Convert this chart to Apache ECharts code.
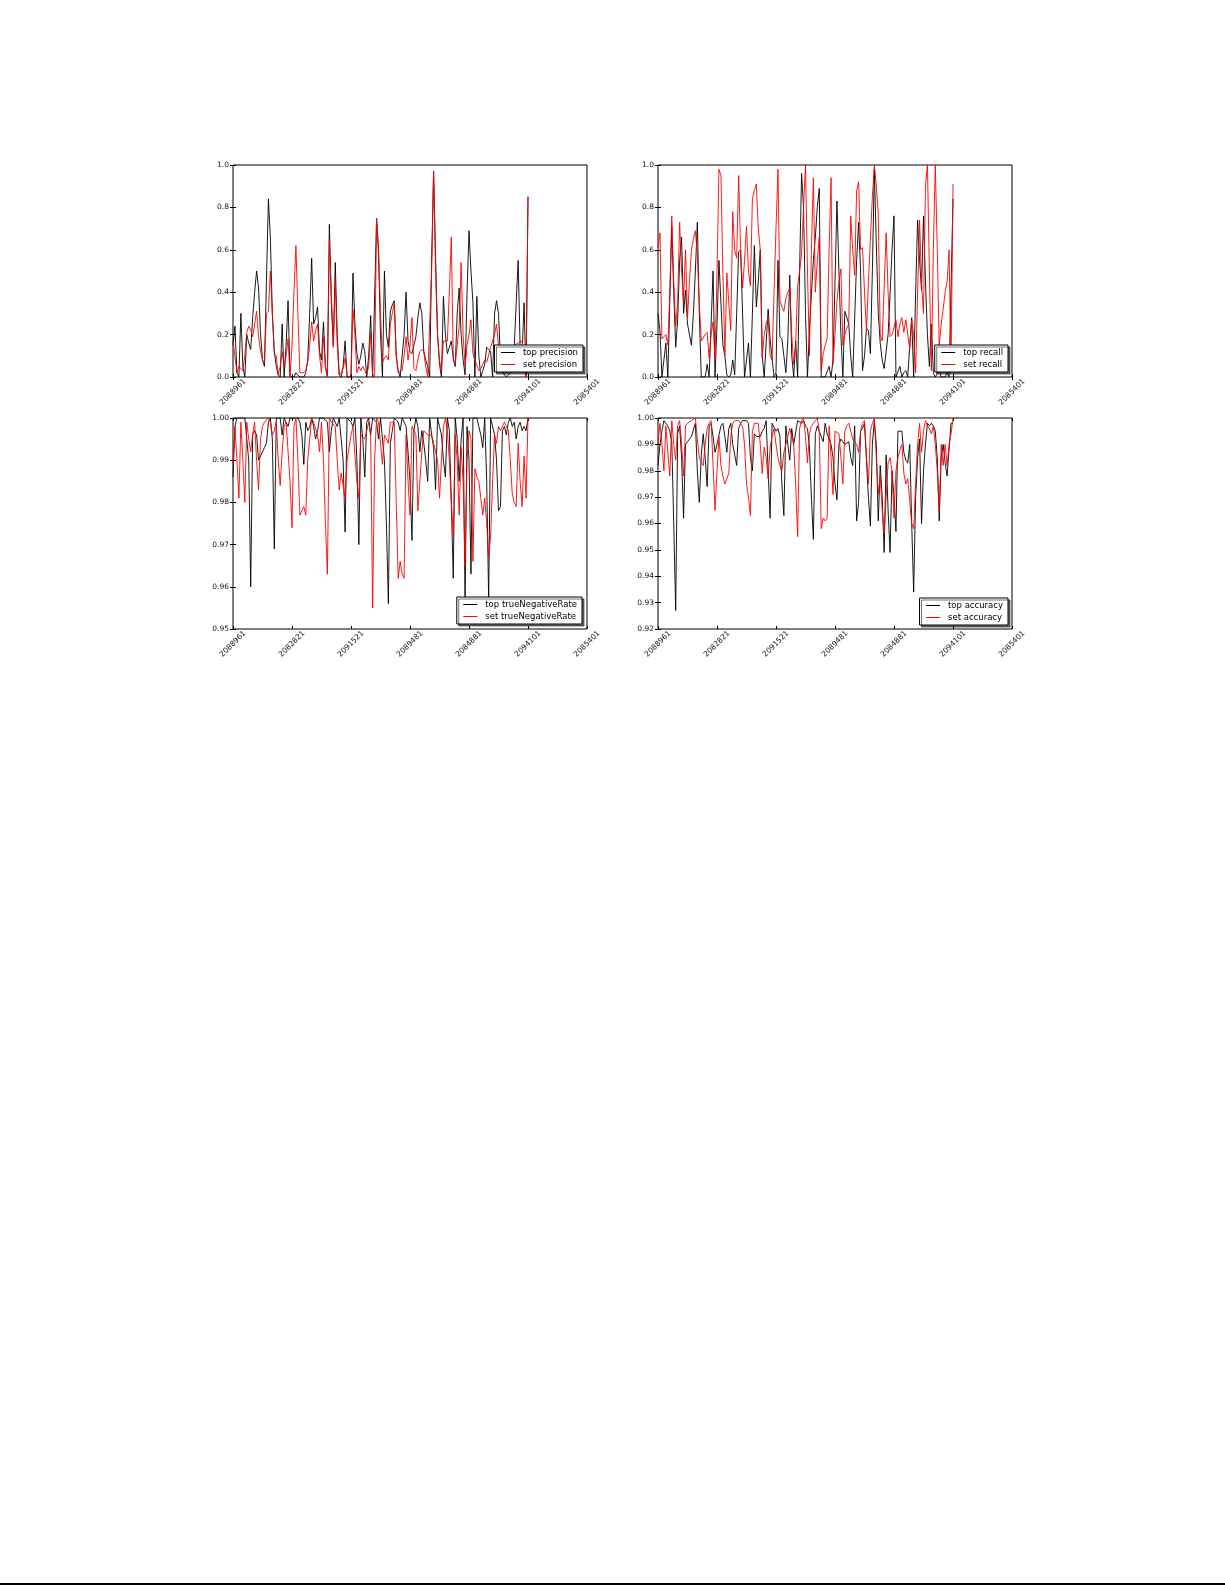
<!DOCTYPE html>
<html><head><meta charset="utf-8">
<script src="https://cdn.jsdelivr.net/npm/echarts@6/dist/echarts.min.js"></script>
<style>html,body{margin:0;padding:0;background:#fff;} #c{width:1225px;height:1585px;}</style>
</head><body><div id="c"></div>
<script>
const xTickLabels = ['2088961','2082821','2091521','2089481','2084881','2094101','2085401'];

const topPrecision = [
0.15,0.24,0.02,0.0,0.30,0.05,0.0,0.20,0.16,0.13,
0.28,0.40,0.50,0.42,0.20,0.08,0.05,0.45,0.84,0.66,
0.30,0.12,0.05,0.01,0.0,0.25,0.0,0.15,0.36,0.0,
0.0,0.0,0.02,0.01,0.0,0.0,0.0,0.02,0.08,0.30,
0.56,0.25,0.28,0.33,0.12,0.08,0.26,0.05,0.0,0.72,
0.35,0.15,0.54,0.20,0.01,0.0,0.05,0.17,0.0,0.0,
0.0,0.49,0.25,0.11,0.06,0.10,0.16,0.12,0.0,0.10,
0.29,0.0,0.0,0.75,0.58,0.20,0.0,0.50,0.20,0.14,
0.31,0.34,0.36,0.10,0.03,0.0,0.0,0.20,0.40,0.17,
0.12,0.11,0.15,0.19,0.28,0.35,0.30,0.12,0.08,0.05,
0.0,0.55,0.97,0.57,0.20,0.06,0.0,0.38,0.20,0.11,
0.14,0.17,0.09,0.05,0.30,0.42,0.20,0.08,0.01,0.40,
0.69,0.50,0.35,0.0,0.38,0.10,0.0,0.03,0.06,0.14,
0.13,0.12,0.0,0.30,0.36,0.30,0.08,0.02,0.01,0.0,
0.0,0.02,0.08,0.14,0.35,0.55,0.14,0.10,0.35,0.0,
0.85];
const setPrecision = [
0.17,0.17,0.02,0.05,0.05,0.03,0.10,0.21,0.24,0.22,
0.19,0.25,0.31,0.19,0.12,0.08,0.07,0.30,0.31,0.50,
0.30,0.11,0.10,0.01,0.05,0.12,0.05,0.10,0.18,0.0,
0.15,0.40,0.62,0.30,0.02,0.02,0.02,0.03,0.07,0.15,
0.26,0.17,0.22,0.25,0.10,0.02,0.19,0.05,0.0,0.65,
0.40,0.14,0.45,0.15,0.01,0.02,0.04,0.09,0.01,0.0,
0.01,0.32,0.20,0.02,0.05,0.03,0.05,0.03,0.01,0.05,
0.21,0.01,0.0,0.75,0.61,0.30,0.07,0.09,0.10,0.08,
0.25,0.30,0.35,0.10,0.02,0.02,0.03,0.10,0.19,0.08,
0.15,0.28,0.04,0.03,0.08,0.12,0.13,0.12,0.05,0.0,
0.0,0.50,0.97,0.50,0.20,0.08,0.03,0.17,0.17,0.17,
0.40,0.66,0.08,0.06,0.15,0.24,0.54,0.20,0.05,0.15,
0.20,0.27,0.11,0.08,0.08,0.03,0.04,0.06,0.08,0.07,
0.07,0.14,0.14,0.20,0.25,0.25,0.05,0.03,0.01,0.02,
0.03,0.05,0.10,0.15,0.15,0.16,0.16,0.17,0.17,0.0,
0.85];
const topRecall = [
0.30,0.22,0.0,0.08,0.16,0.0,0.0,0.71,0.40,0.14,
0.27,0.55,0.66,0.30,0.41,0.25,0.20,0.15,0.30,0.50,
0.73,0.30,0.0,0.0,0.0,0.06,0.0,0.25,0.50,0.0,
0.25,0.55,0.35,0.15,0.10,0.01,0.0,0.01,0.08,0.01,
0.30,0.59,0.60,0.60,0.0,0.08,0.16,0.0,0.30,0.62,
0.33,0.45,0.60,0.10,0.0,0.0,0.32,0.18,0.18,0.0,
0.02,0.55,0.19,0.18,0.10,0.02,0.17,0.48,0.10,0.0,
0.17,0.0,0.50,0.96,0.80,0.30,0.0,0.22,0.39,0.55,
0.66,0.80,0.89,0.0,0.0,0.0,0.0,0.05,0.0,0.08,
0.45,0.83,0.50,0.20,0.0,0.31,0.28,0.25,0.10,0.0,
0.0,0.55,0.73,0.50,0.03,0.10,0.23,0.22,0.11,0.50,
0.98,0.63,0.30,0.16,0.08,0.04,0.04,0.20,0.39,0.60,
0.76,0.0,0.0,0.05,0.0,0.02,0.03,0.0,0.15,0.28,
0.0,0.40,0.74,0.55,0.41,0.76,0.45,0.20,0.05,0.25,
0.02,0.0,0.0,0.03,0.0,0.0,0.0,0.02,0.0,0.0,
0.84];
const setRecall = [
0.61,0.68,0.18,0.19,0.20,0.15,0.40,0.76,0.45,0.24,
0.35,0.73,0.50,0.36,0.60,0.28,0.45,0.60,0.65,0.69,
0.58,0.35,0.17,0.17,0.20,0.21,0.09,0.20,0.26,0.08,
0.50,0.98,0.95,0.50,0.10,0.49,0.35,0.22,0.78,0.60,
0.56,0.95,0.60,0.42,0.55,0.71,0.50,0.43,0.84,0.88,
0.91,0.70,0.60,0.09,0.20,0.25,0.28,0.10,0.08,0.40,
0.70,0.98,0.36,0.33,0.31,0.37,0.40,0.42,0.20,0.06,
0.15,0.43,0.50,0.58,0.80,1.0,0.50,0.10,0.60,0.94,
0.40,0.55,0.66,0.03,0.11,0.15,0.18,0.60,0.94,0.06,
0.20,0.36,0.45,0.51,0.15,0.20,0.23,0.25,0.76,0.60,
0.48,0.88,0.92,0.60,0.61,0.40,0.22,0.45,0.65,0.85,
1.0,0.90,0.77,0.20,0.17,0.17,0.68,0.40,0.19,0.20,
0.20,0.27,0.19,0.25,0.28,0.21,0.27,0.20,0.13,0.27,
0.20,0.02,0.40,0.74,0.44,0.30,0.90,1.0,0.50,0.03,
0.60,1.0,0.60,0.15,0.25,0.32,0.40,0.45,0.60,0.05,
0.91];
const topTrueNegativeRate = [
0.986,0.998,1.0,1.0,1.0,1.0,1.0,0.995,0.990,0.960,
0.996,0.997,0.996,0.990,0.990,0.992,0.993,0.994,0.999,1.0,
0.995,0.969,1.0,1.0,1.0,0.996,1.0,1.0,0.998,1.0,
1.0,1.0,1.0,1.0,0.999,0.996,0.989,0.999,0.997,0.998,
1.0,0.998,0.995,0.997,1.0,1.0,1.0,1.0,0.999,0.992,
0.997,1.0,1.0,0.998,1.0,1.0,0.990,0.973,1.0,1.0,
0.999,0.998,1.0,0.990,0.970,1.0,0.995,0.986,0.999,1.0,
0.996,1.0,1.0,0.999,0.995,1.0,1.0,0.990,0.975,0.956,
0.994,0.997,1.0,1.0,0.999,0.997,1.0,1.0,0.998,0.992,
0.985,0.971,0.997,1.0,0.998,0.992,0.997,0.994,0.990,0.985,
1.0,0.996,0.993,0.983,1.0,0.998,0.996,0.990,0.986,1.0,
0.997,0.980,0.962,1.0,0.995,0.985,0.995,1.0,0.956,0.998,
0.990,0.963,1.0,1.0,1.0,0.998,0.996,0.993,1.0,0.985,
0.957,1.0,1.0,0.996,0.990,0.978,0.979,0.997,0.998,0.996,
0.999,1.0,0.998,0.999,0.995,0.998,0.999,0.997,0.998,0.997,
1.0];
const setTrueNegativeRate = [
0.989,0.998,0.990,0.981,0.999,0.990,0.980,0.999,0.995,0.992,
0.996,0.999,0.990,0.983,0.995,0.998,0.999,0.999,1.0,0.999,
0.996,0.997,0.999,0.990,0.984,0.992,0.998,0.999,0.999,0.985,
0.974,0.998,1.0,0.990,0.977,0.978,0.979,0.977,0.990,0.995,
1.0,0.999,0.999,0.996,0.992,0.999,0.990,0.975,0.963,1.0,
0.999,0.999,0.998,0.990,0.983,0.987,0.984,0.981,0.990,0.993,
0.996,0.998,0.991,0.985,0.981,0.996,0.996,0.995,0.997,0.999,
0.996,0.955,0.990,1.0,0.999,0.999,0.989,0.996,0.995,0.994,
0.999,0.999,0.999,0.980,0.962,0.966,0.963,0.962,0.996,0.985,
0.977,0.998,0.997,0.996,0.978,0.985,0.992,0.997,0.997,0.996,
0.996,0.996,0.994,0.992,0.990,0.981,0.990,0.998,1.0,0.997,
0.990,0.980,0.972,0.996,0.990,0.977,0.993,0.985,0.965,0.990,
0.997,0.995,0.966,0.988,0.986,0.985,0.981,0.977,0.981,0.975,
0.967,0.972,0.985,0.996,0.994,0.998,0.997,0.997,0.999,0.998,
0.997,0.990,0.982,0.980,0.979,0.994,0.985,0.979,0.991,0.981,
1.0];
const topAccuracy = [
0.982,0.990,0.995,0.999,0.999,0.997,0.995,0.991,0.960,0.927,
0.994,0.997,0.985,0.962,0.990,0.991,0.992,0.993,0.993,0.998,
0.980,0.968,0.986,0.994,0.985,0.974,0.997,0.998,0.993,0.987,
0.990,0.990,0.997,0.998,0.993,0.987,0.996,0.998,0.990,0.986,
0.982,0.996,0.998,0.999,0.999,0.999,0.998,0.985,0.980,0.994,
0.993,0.993,0.993,0.995,0.996,0.999,0.980,0.962,0.998,0.998,
0.995,0.996,0.993,0.975,0.963,0.997,0.990,0.984,0.996,0.990,
0.990,0.999,0.999,0.998,0.999,0.997,0.996,0.989,0.970,0.954,
0.994,0.997,0.995,0.993,0.991,0.998,0.994,0.994,0.990,0.985,
0.975,0.969,0.990,0.992,0.991,0.990,0.990,0.991,0.985,0.982,
0.997,0.961,0.968,0.995,0.996,0.998,0.998,0.970,0.959,0.990,
0.999,0.990,0.961,0.982,0.970,0.949,0.986,0.965,0.949,0.980,
0.970,0.957,0.995,0.995,0.995,0.987,0.984,0.983,0.990,0.960,
0.934,0.970,0.985,0.992,0.960,0.980,0.990,0.998,0.997,0.998,
0.997,0.995,0.985,0.961,0.985,0.990,0.983,0.978,0.978,0.998,
0.998];
const setAccuracy = [
0.990,0.998,0.990,0.980,0.997,0.987,0.978,0.999,0.990,0.984,
0.997,0.999,0.990,0.978,0.997,0.998,0.998,0.999,0.999,1.0,
0.992,0.985,0.983,0.982,0.990,0.996,0.998,0.999,0.999,0.965,
0.980,0.993,0.982,0.978,0.975,0.977,0.979,0.993,0.998,0.999,
0.999,0.999,0.998,0.997,0.990,0.975,0.970,0.963,0.995,0.998,
0.998,0.998,0.990,0.979,0.989,0.985,0.977,0.989,0.993,0.996,
0.990,0.985,0.982,0.980,0.987,0.990,0.993,0.996,0.996,0.990,
0.975,0.955,0.996,0.999,1.0,0.993,0.983,0.994,0.997,0.998,
0.999,1.0,0.995,0.958,0.962,0.961,0.962,0.997,0.985,0.971,
0.995,0.995,0.994,0.985,0.975,0.995,0.997,0.998,0.998,0.992,
0.991,0.990,0.987,0.995,0.998,0.999,0.985,0.975,0.995,0.998,
1.0,0.985,0.971,0.978,0.965,0.956,0.970,0.983,0.985,0.980,
0.962,0.980,0.985,0.988,0.990,0.979,0.975,0.977,0.977,0.960,
0.958,0.975,0.990,0.998,0.987,0.995,0.999,0.997,0.996,0.994,
0.997,0.990,0.980,0.965,0.990,0.982,0.990,0.982,0.990,0.994,
1.0];

const FONT = 'DejaVu Sans';
const panels = [
  {a: topPrecision, b: setPrecision, names: ['top precision', 'set precision'],
   y: {min: 0, max: 1, interval: 0.2, dec: 1},
   grid: {left: 233, top: 165, width: 354, height: 212}, legend: {right: 642, bottom: 1213}},
  {a: topRecall, b: setRecall, names: ['top recall', 'set recall'],
   y: {min: 0, max: 1, interval: 0.2, dec: 1},
   grid: {left: 658, top: 165, width: 354, height: 212}, legend: {right: 217, bottom: 1213}},
  {a: topTrueNegativeRate, b: setTrueNegativeRate, names: ['top trueNegativeRate', 'set trueNegativeRate'],
   y: {min: 0.95, max: 1.0, interval: 0.01, dec: 2},
   grid: {left: 233, top: 418, width: 354, height: 211}, legend: {right: 643, bottom: 961}},
  {a: topAccuracy, b: setAccuracy, names: ['top accuracy', 'set accuracy'],
   y: {min: 0.92, max: 1.0, interval: 0.01, dec: 2},
   grid: {left: 658, top: 418, width: 354, height: 211}, legend: {right: 217, bottom: 960}}
];

const grids = [], xAxes = [], yAxes = [], series = [], legends = [];
const tick = {show: true, inside: true, length: 3, lineStyle: {color: '#000', width: 1}};
panels.forEach((p, k) => {
  grids.push(Object.assign({show: true, borderColor: '#000', borderWidth: 1, backgroundColor: '#fff', containLabel: false}, p.grid));
  const xBase = {type: 'value', gridIndex: k, min: 0, max: 180, interval: 30,
    axisLine: {show: false}, splitLine: {show: false}, axisTick: tick};
  xAxes.push(Object.assign({}, xBase, {position: 'bottom',
    axisLabel: {show: true, rotate: 45, align: 'center', verticalAlign: 'middle', margin: 15,
      fontSize: 7.5, fontFamily: FONT, color: '#111', showMinLabel: true, showMaxLabel: true,
      formatter: v => xTickLabels[Math.round(v / 30)] || ''}}));
  xAxes.push(Object.assign({}, xBase, {position: 'top', axisLabel: {show: false}}));
  const yBase = {type: 'value', gridIndex: k, min: p.y.min, max: p.y.max, interval: p.y.interval,
    axisLine: {show: false}, splitLine: {show: false}, axisTick: tick};
  yAxes.push(Object.assign({}, yBase, {position: 'left',
    axisLabel: {show: true, margin: 4, fontSize: 7.5, fontFamily: FONT, color: '#111',
      showMinLabel: true, showMaxLabel: true, formatter: v => v.toFixed(p.y.dec)}}));
  yAxes.push(Object.assign({}, yBase, {position: 'right', axisLabel: {show: false}}));
  [[p.a, '#000000', p.names[0]], [p.b, '#ff0000', p.names[1]]].forEach(([vals, col, name]) => {
    series.push({type: 'line', name: name, xAxisIndex: 2 * k, yAxisIndex: 2 * k,
      data: vals.map((v, i) => [i, v]), symbol: 'none', showSymbol: false, clip: true,
      lineStyle: {color: col, width: 0.9}, itemStyle: {color: col}, emphasis: {disabled: true}});
  });
  legends.push({data: p.names, orient: 'vertical', right: p.legend.right, bottom: p.legend.bottom,
    itemWidth: 14, itemHeight: 9, itemGap: 3, padding: [3, 5, 3, 6],
    borderColor: '#000', borderWidth: 1, backgroundColor: '#fff', borderRadius: 0,
    shadowColor: 'rgba(0,0,0,0.55)', shadowOffsetX: 2, shadowOffsetY: 2, shadowBlur: 0,
    selectedMode: false,
    itemStyle: {color: 'rgba(0,0,0,0)', borderColor: 'rgba(0,0,0,0)', borderWidth: 0, opacity: 0},
    lineStyle: {width: 1},
    textStyle: {fontFamily: FONT, fontSize: 8.5, color: '#000', padding: [0, 0, 0, 3]}});
});

const chart = echarts.init(document.getElementById('c'), null, {renderer: 'canvas'});
chart.setOption({
  backgroundColor: '#fff',
  animation: false,
  grid: grids, xAxis: xAxes, yAxis: yAxes, series: series, legend: legends,
  graphic: [{type: 'rect', shape: {x: 0, y: 1583, width: 1225, height: 2}, style: {fill: '#000'}}]
});
</script></body></html>
